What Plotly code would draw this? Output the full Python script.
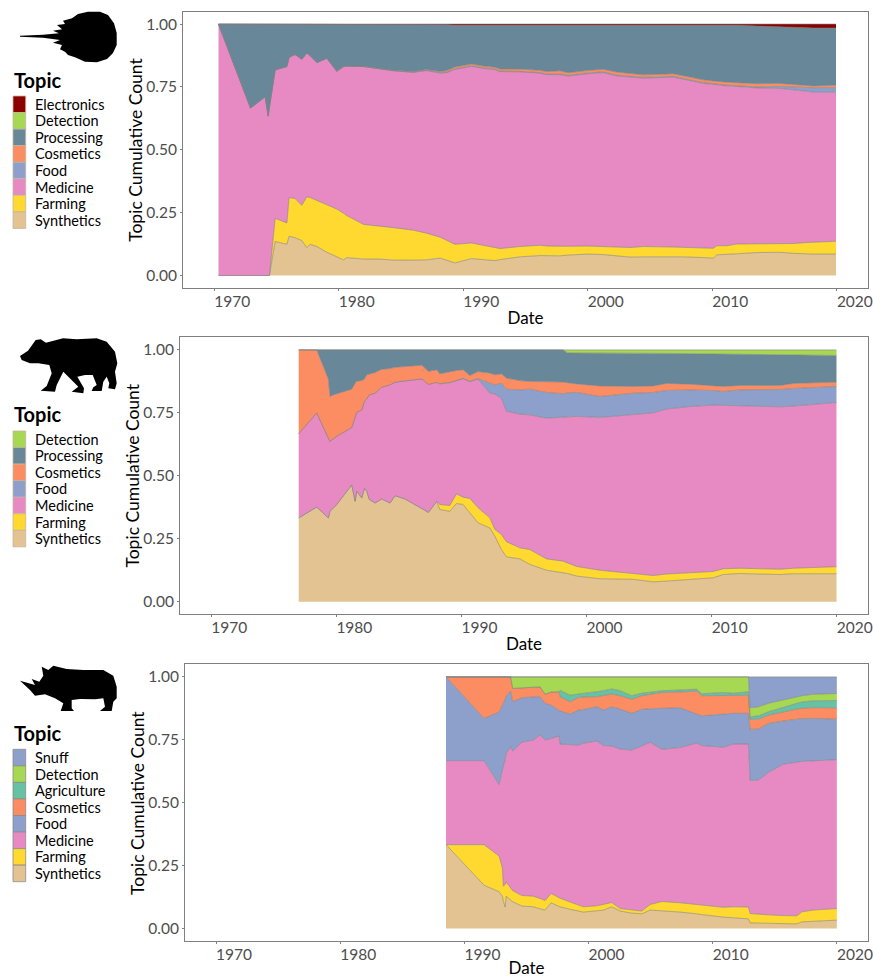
import numpy as np
import plotly.graph_objects as go

W, H = 873, 978
FONT = "Lato"
TICK_VALS_X = [1970, 1980, 1990, 2000, 2010, 2020]
TICK_VALS_Y = [0, 0.25, 0.5, 0.75, 1.0]
TICK_TEXT_Y = ["0.00", "0.25", "0.50", "0.75", "1.00"]

COLORS = {
    "Synthetics": "#E2C391", "Farming": "#FFD92F", "Medicine": "#E78AC3",
    "Food": "#8DA0CB", "Cosmetics": "#FC8D62", "Processing": "#688799",
    "Detection": "#A6D854", "Electronics": "#8B0000",
    "Agriculture": "#66C2A5", "Snuff": "#8DA0CB",
}

# ---------- horseshoe crab panel: upper edge of each topic in the cumulative stack
years1 = [1970.35, 1972.92, 1974.1, 1974.34, 1974.44, 1974.9, 1975.84, 1976.02, 1976.5, 1977.04, 1977.44, 1977.7,
          1978.25, 1979.05, 1979.85, 1980.4, 1980.65, 1982, 1983.3, 1984.4, 1986, 1987.06,
          1988.15, 1988.7, 1989.33, 1990.67, 1991.6, 1992.54, 1992.95, 1994.55, 1996.16, 1996.7, 1997.76, 1998.43,
          1999.9, 2001.25, 2002.3, 2003.4, 2004.46, 2006.87, 2007.67, 2009.28, 2010.08, 2010.35, 2011.15, 2011.95,
          2013.56, 2015.44, 2016.5, 2017.6, 2018.1, 2019.93]
synthetics1 = [0, 0, 0, 0, 0, .135, .124, .156, .150, .139, .111, .124, .115, .092, .074, .062, .071, .065, .065, .061, .061, .062,
               .069, .059, .050, .067, .062, .059, .063, .074, .079, .079, .078, .081, .085, .083, .078, .073, .074, .074, .074,
               .071, .069, .082, .083, .086, .091, .092, .088, .085, .085, .085]
farming1 = [0, 0, 0, 0, 0, .227, .209, .310, .306, .279, .313, .310, .299, .280, .264, .247, .238, .203, .197, .190, .180, .168,
            .152, .139, .124, .129, .120, .108, .107, .115, .120, .117, .115, .116, .117, .116, .113, .111, .115, .113, .112,
            .109, .108, .118, .118, .125, .126, .127, .127, .131, .132, .136]
medicine1 = [1, .666, .711, .634, .670, .818, .831, .868, .879, .860, .885, .875, .847, .864, .812, .831, .832, .831, .822, .814, .808, .815,
             .805, .807, .820, .832, .824, .819, .811, .810, .805, .799, .799, .793, .802, .807, .794, .789, .785, .789, .781,
             .764, .760, .758, .754, .752, .746, .744, .740, .733, .729, .729]
food1 = [1, .666, .711, .634, .670, .818, .831, .868, .879, .860, .885, .875, .847, .864, .812, .831, .832, .831, .822, .815, .809, .817,
         .807, .809, .822, .834, .826, .821, .813, .812, .807, .801, .802, .796, .805, .810, .797, .792, .788, .792, .784,
         .767, .763, .761, .757, .755, .750, .752, .750, .748, .747, .747]
cosmetics1 = [1, .666, .711, .634, .670, .818, .831, .868, .879, .860, .885, .875, .847, .864, .813, .832, .833, .832, .823, .816, .811, .819,
              .811, .815, .829, .841, .833, .828, .821, .821, .816, .811, .814, .806, .815, .820, .809, .803, .798, .802, .794,
              .778, .774, .772, .769, .767, .763, .764, .759, .755, .754, .757]
processing1 = [1] * 20 + [.997, .997] + [.997, .997, .995, .995, .995, .995, .995, .995, .996, .996, .996, .996, .996, .996, .996,
               .996, .996, .996, .996, .995, .995, .995, .995, .995, .992, .990, .986, .985, .984, .984]
detection1 = list(processing1)
electronics1 = [1] * 52

# ---------- bear panel
years2 = [1976.99, 1978.43, 1979.36, 1979.49, 1980.03, 1981.23, 1981.5, 1981.63, 1982.03, 1982.24, 1982.43, 1982.64,
          1983.09, 1983.63, 1984.29, 1984.69, 1985.49, 1986.29, 1986.83, 1987.36, 1988.03,
          1988.27, 1989.07, 1989.6, 1990.13, 1990.67, 1991.33, 1992.27, 1992.67, 1993.2, 1993.6, 1994.67, 1995.47, 1996.8,
          1998.13, 1998.48, 1999.2, 2001.07, 2003.73, 2005.33, 2006.4, 2008.27, 2010.13, 2010.93, 2012.27, 2015.47, 2016.53, 2019.98]
synthetics2 = [.333, .376, .333, .359, .386, .464, .399, .439, .412, .450, .439, .406, .392, .408, .392, .421, .408, .386, .369, .355, .399,
               .366, .359, .390, .386, .353, .313, .293, .260, .207, .178, .170, .148, .125, .115, .112, .102, .091, .089, .079, .082,
               .089, .095, .108, .112, .108, .111, .111]
farming2 = [.333, .376, .333, .359, .386, .464, .399, .439, .412, .450, .439, .406, .392, .408, .392, .421, .408, .386, .369, .355, .399,
            .386, .382, .428, .415, .410, .373, .333, .287, .267, .238, .214, .207, .170, .161, .155, .140, .125, .112, .104, .110,
            .115, .120, .131, .133, .129, .133, .139]
medicine2 = [.667, .750, .650, .637, .657, .692, .733, .752, .762, .795, .806, .822, .828, .852, .861, .872, .877, .881, .885, .863, .871,
             .865, .870, .878, .886, .874, .884, .828, .825, .808, .756, .745, .742, .729, .733, .734, .736, .732, .744, .750, .765,
             .775, .781, .780, .777, .774, .777, .791]
food2 = [.667, .750, .650, .637, .657, .692, .733, .752, .762, .795, .806, .822, .828, .852, .861, .872, .877, .881, .885, .863, .871,
         .866, .871, .879, .887, .876, .886, .868, .861, .868, .844, .841, .844, .831, .826, .829, .831, .815, .828, .831, .839,
         .841, .839, .835, .841, .843, .847, .855]
cosmetics2 = [1, 1, .884, .816, .826, .844, .868, .875, .878, .884, .901, .904, .910, .923, .926, .931, .934, .937, .939, .915, .921,
              .905, .914, .918, .921, .898, .914, .908, .901, .905, .888, .878, .875, .875, .872, .870, .865, .857, .855, .857, .867,
              .864, .857, .855, .859, .859, .867, .872]
processing2 = [1] * 35 + [.988, .988, .988, .987, .986, .986, .985, .984, .983, .982, .981, .980, .978]
detection2 = [1] * 48

# ---------- rhino panel
years3 = [1988.52, 1991.58, 1992.79, 1993.06, 1993.14, 1993.28, 1993.36, 1993.73, 1993.89, 1994.62, 1995.56, 1996.09, 1996.5, 1996.98,
          1997.62, 1997.7, 1998.51, 1999.18, 1999.58, 2000.66, 2001.19, 2001.87, 2002.54, 2003.48, 2004.28, 2004.95, 2005.89, 2007.37,
          2008.71, 2009.11, 2010.86, 2011.66, 2012.87, 2013.01, 2013.68, 2014.48, 2015.69, 2016.77, 2017.17, 2018.11, 2019.99]
synthetics3 = [.333, .172, .146, .128, .108, .085, .128, .110, .106, .089, .086, .078, .073, .102, .089, .086, .076, .070, .065, .070, .073,
               .086, .069, .061, .058, .073, .071, .065, .058, .055, .045, .042, .038, .022, .021, .020, .019, .018, .026, .029, .033]
farming3 = [.333, .333, .288, .240, .168, .175, .185, .158, .150, .131, .128, .119, .111, .139, .122, .120, .105, .095, .086, .090, .096,
            .103, .079, .074, .069, .095, .107, .102, .096, .092, .084, .086, .085, .059, .056, .054, .051, .050, .066, .073, .079]
medicine3 = [.667, .667, .572, .637, .645, .670, .695, .722, .705, .740, .749, .769, .749, .755, .765, .733, .731, .729, .736, .745, .727,
             .725, .713, .709, .725, .740, .712, .719, .737, .727, .720, .733, .733, .588, .590, .620, .653, .662, .664, .666, .671]
food3 = [1, .835, .860, .885, .895, .910, .925, .943, .901, .917, .920, .921, .894, .888, .867, .865, .852, .868, .870, .881, .868,
         .881, .872, .855, .871, .873, .875, .877, .852, .845, .852, .855, .855, .791, .793, .815, .825, .833, .834, .835, .832]
cosmetics3 = [1, 1, 1, 1, 1, 1, 1, 1, .954, .957, .959, .960, .931, .940, .941, .921, .901, .918, .920, .921, .927,
              .932, .925, .911, .925, .930, .938, .940, .944, .925, .927, .927, .927, .831, .832, .848, .862, .872, .875, .878, .877]
agriculture3 = [1, 1, 1, 1, 1, 1, 1, 1, .954, .957, .959, .960, .931, .940, .941, .947, .927, .932, .934, .941, .945,
                .952, .945, .925, .935, .940, .945, .948, .951, .933, .938, .935, .941, .841, .845, .861, .880, .895, .900, .905, .906]
detection3 = [1] * 33 + [.877, .881, .895, .908, .922, .925, .931, .934]
snuff3 = [1] * 41

PANELS = [
    dict(years=years1,
         stack=[("Synthetics", synthetics1), ("Farming", farming1), ("Medicine", medicine1), ("Food", food1),
                ("Cosmetics", cosmetics1), ("Processing", processing1), ("Detection", detection1), ("Electronics", electronics1)],
         box=(183, 868, 11.5, 288), swatch_top=96, title_y=80, ytitle_x=136, border="#c4b5a0"),
    dict(years=years2,
         stack=[("Synthetics", synthetics2), ("Farming", farming2), ("Medicine", medicine2), ("Food", food2),
                ("Cosmetics", cosmetics2), ("Processing", processing2), ("Detection", detection2)],
         box=(180, 868, 337.3, 614.3), swatch_top=431, title_y=414, ytitle_x=132.7, border="#c4b5a0"),
    dict(years=years3,
         stack=[("Synthetics", synthetics3), ("Farming", farming3), ("Medicine", medicine3), ("Food", food3),
                ("Cosmetics", cosmetics3), ("Agriculture", agriculture3), ("Detection", detection3), ("Snuff", snuff3)],
         box=(185, 868, 664.3, 941), swatch_top=749.3, title_y=733, ytitle_x=137.3, border="#8c8c8c"),
]

# silhouettes, outline in page pixels
CRAB = [(20, 35.7), (43, 34.7), (59, 33.3), (53, 30.7), (62, 29.3), (57, 25), (65, 24), (63, 20.7), (72, 18.3), (78, 14), (88, 11.7),
        (100, 11.7), (108, 15), (114, 23.3), (116.7, 33), (116.7, 45), (113, 53), (107, 59), (97, 62.3), (85, 61.7), (75, 57.3),
        (68, 55), (65, 51.7), (60, 49.3), (62, 45), (53, 42.7), (60, 40), (43, 37.7), (20, 36.7)]
BEAR = [(20, 356), (28, 350.7), (35.7, 340), (40.7, 339.3), (46, 342.7), (63, 338.3), (76.7, 339.3), (96.7, 338.3), (106.7, 341.7),
        (115, 351.7), (117.3, 363.3), (115, 371.7), (116.7, 383.3), (115, 389.3), (108.3, 388.3), (109.3, 383.3), (106.7, 376.7),
        (103.3, 381.7), (101.7, 391), (91.7, 391), (93.3, 387.3), (96.7, 385), (92.7, 375), (85, 375), (77.3, 376.7), (84, 388.3),
        (83.3, 393.3), (71.7, 391.7), (78.3, 386.7), (63.3, 371.7), (56.7, 385), (55, 391.7), (40.7, 390.7), (46.7, 386), (51.7, 373.3),
        (49.3, 365), (38.3, 363.3), (30, 363.3), (21.7, 360)]
RHINO = [(20, 680.7), (35, 685), (31.7, 679), (39.3, 681.7), (43.3, 675.7), (41.7, 666.7), (48.3, 670), (53.3, 665.7), (66.7, 669),
         (83.3, 670), (103.3, 670), (113.3, 675.7), (116.7, 686.7), (116.7, 698.3), (113.3, 701.7), (111.7, 711), (100, 711), (105, 706.7),
         (103.3, 698.3), (95, 699.3), (80, 699), (71.7, 700), (71.7, 708.3), (74, 711), (60.7, 711), (63.3, 703.3), (55, 698.3),
         (45, 694.3), (35, 695.7), (30, 690)]


def fx(px):
    return px / W


def fy(py):
    return 1 - py / H


def outline(points):
    return "M " + " L ".join(f"{fx(x):.5f},{fy(y):.5f}" for x, y in points) + " Z"


fig = go.Figure()
layout = dict(width=W, height=H, margin=dict(l=0, r=0, t=0, b=0, autoexpand=False), plot_bgcolor="white", paper_bgcolor="white",
              showlegend=False, hovermode=False, font=dict(family=FONT, color="black"))
shapes, annots = [], []

for k, p in enumerate(PANELS):
    sfx = "" if k == 0 else str(k + 1)
    names = [n for n, _ in p["stack"]]
    edges = np.array([v for _, v in p["stack"]], dtype=float)
    shares = np.diff(edges, axis=0, prepend=0)
    for name, s in zip(names, shares):
        fig.add_trace(go.Scatter(x=p["years"], y=s, name=name, mode="lines", stackgroup=f"p{k}",
                                 line=dict(color="#808080", width=0.6), fillcolor=COLORS[name],
                                 xaxis=f"x{sfx}", yaxis=f"y{sfx}"))
    x0, x1, y0, y1 = p["box"]
    common = dict(showgrid=False, zeroline=False, showline=True, mirror=True, linecolor="#7f7f7f", linewidth=1,
                  ticks="outside", ticklen=2, tickwidth=1, tickcolor="#7f7f7f", automargin=False,
                  tickfont=dict(family=FONT, size=15.5, color="#4d4d4d"), ticklabeloverflow="allow")
    layout[f"xaxis{sfx}"] = dict(domain=[fx(x0), fx(x1)], range=[1967.5, 2022.5], anchor=f"y{sfx}", tickmode="array",
                                 tickvals=TICK_VALS_X, ticktext=[str(v) for v in TICK_VALS_X], ticklabelshift=18,
                                 ticklabelstandoff=-3,
                                 title=dict(text="Date", standoff=3, font=dict(family=FONT, size=17, color="black")), **common)
    layout[f"yaxis{sfx}"] = dict(domain=[fy(y1), fy(y0)], range=[-0.05, 1.05], anchor=f"x{sfx}", tickmode="array",
                                 tickvals=TICK_VALS_Y, ticktext=TICK_TEXT_Y, **common)
    annots.append(dict(text="Topic Cumulative Count", x=fx(p["ytitle_x"]), y=fy((y0 + y1) / 2), xref="paper", yref="paper",
                       textangle=-90, xanchor="center", yanchor="middle", showarrow=False,
                       font=dict(family=FONT, size=17.5, color="black")))
    # legend key
    annots.append(dict(text="<b>Topic</b>", x=fx(11.5), y=fy(p["title_y"]), xref="paper", yref="paper", xanchor="left",
                       yanchor="middle", showarrow=False, font=dict(family=FONT, size=20, color="black")))
    row = 16.55
    for i, name in enumerate(reversed(names)):
        top = p["swatch_top"] + i * row
        shapes.append(dict(type="rect", xref="paper", yref="paper", x0=fx(13), x1=fx(25.7), y0=fy(top + row), y1=fy(top),
                           fillcolor=COLORS[name], line=dict(color=p["border"], width=0.8)))
        annots.append(dict(text=name, x=fx(33), y=fy(top + row / 2), xref="paper", yref="paper", xanchor="left",
                           yanchor="middle", showarrow=False, font=dict(family=FONT, size=14.5, color="black")))

for pts in (CRAB, BEAR, RHINO):
    shapes.append(dict(type="path", xref="paper", yref="paper", path=outline(pts), fillcolor="black", line=dict(width=0)))

fig.update_layout(shapes=shapes, annotations=annots, **layout)
fig.write_html("out.html", post_script="document.body.style.margin='0';", config={"displayModeBar": False})
